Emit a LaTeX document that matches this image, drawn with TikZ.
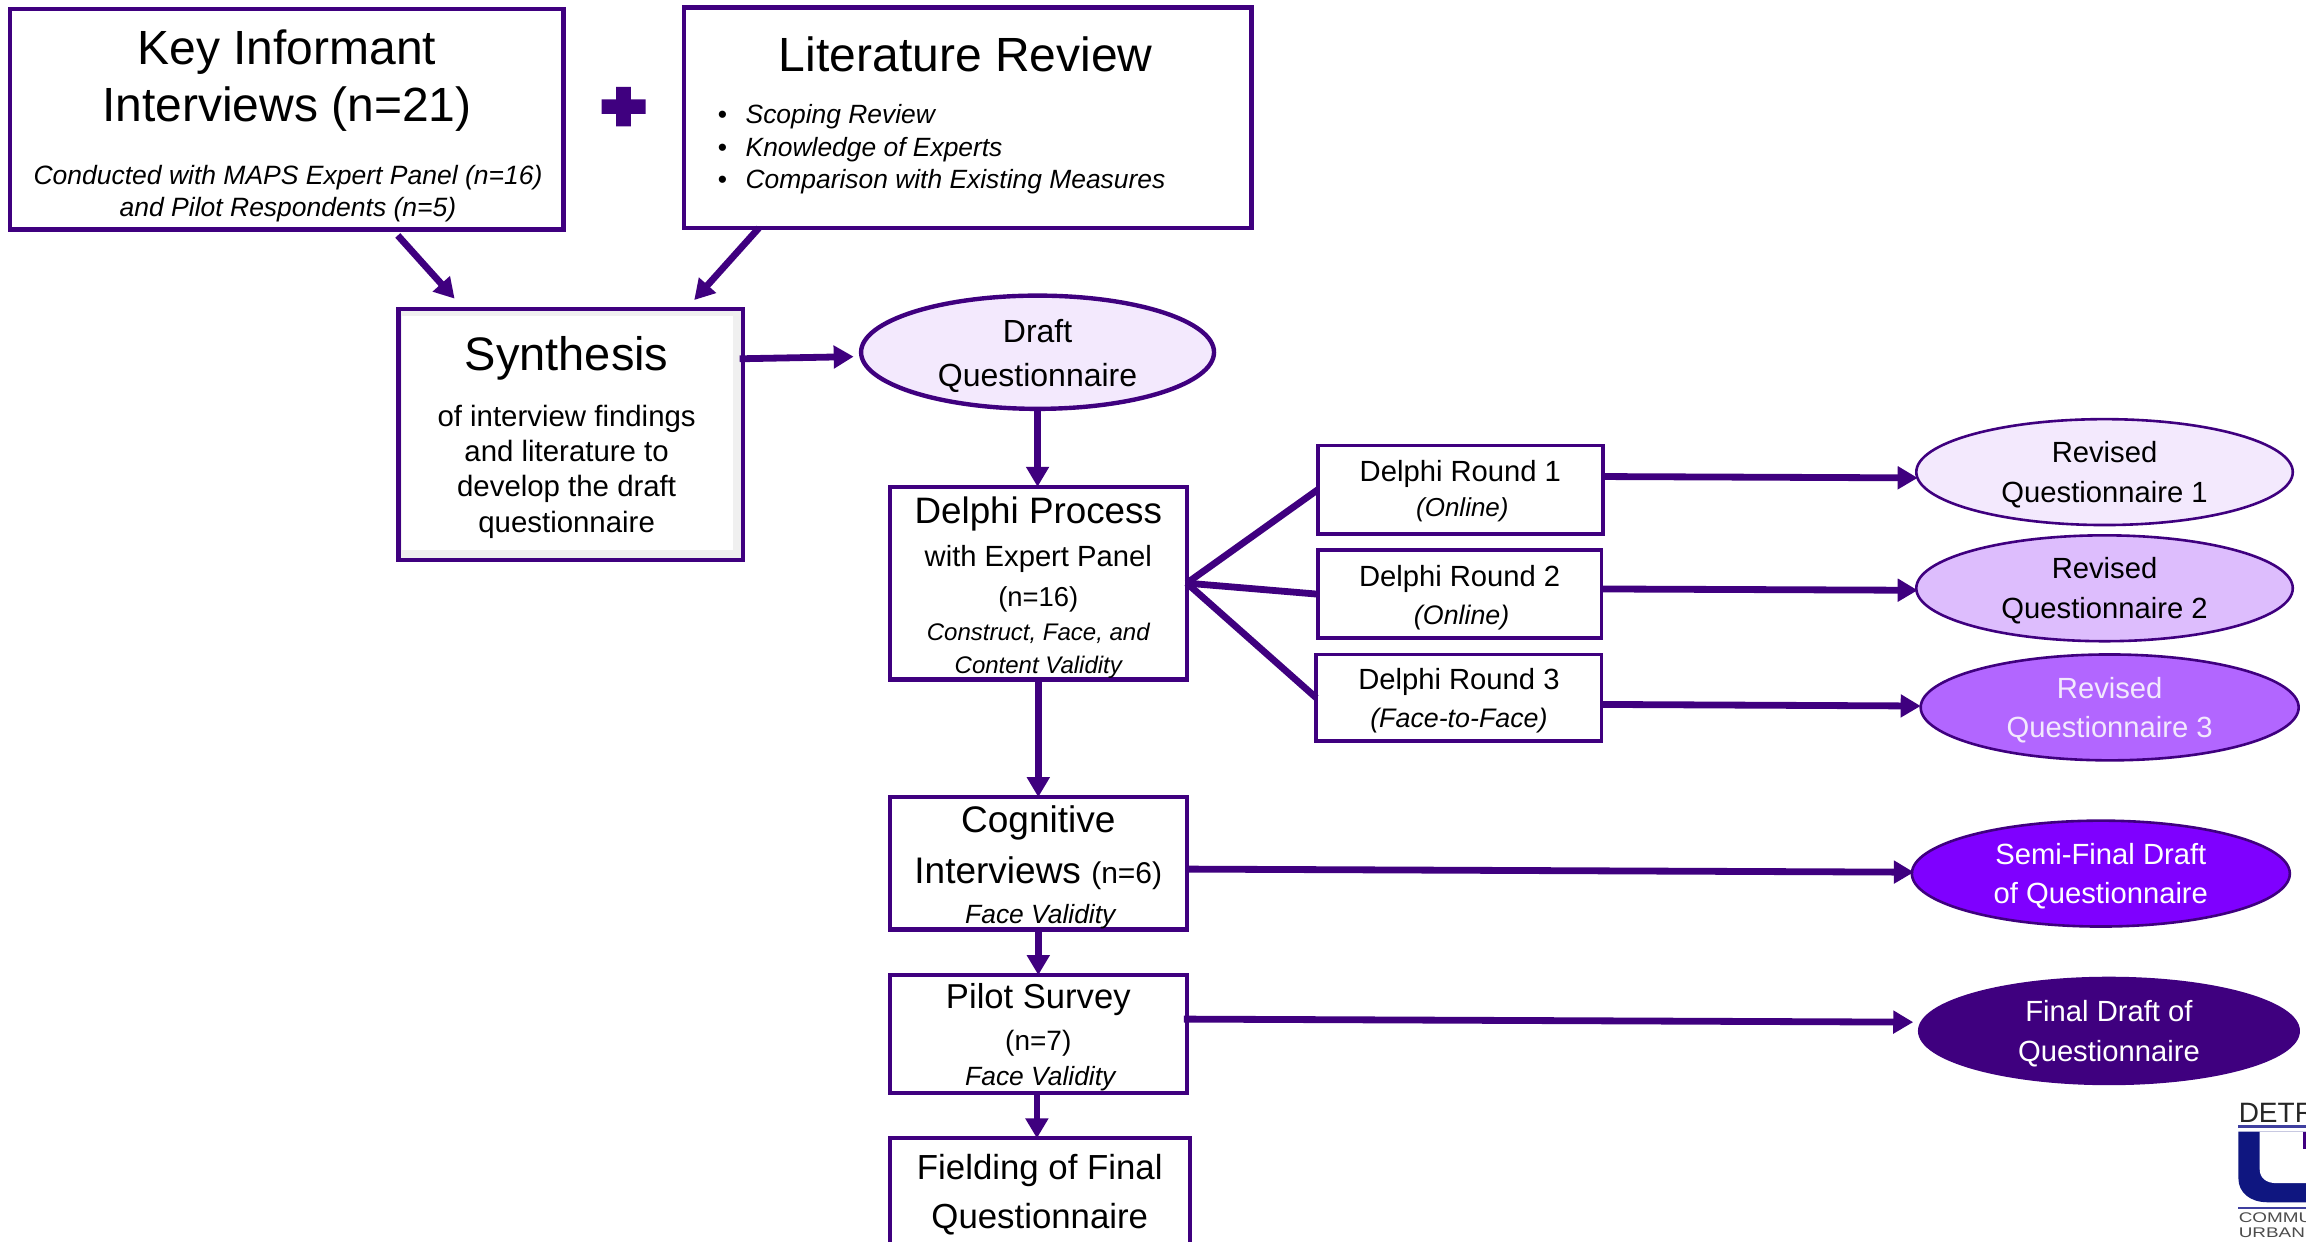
\documentclass[tikz,border=0pt]{standalone}
\usepackage{fontspec}
\setmainfont{Liberation Sans}
\usetikzlibrary{arrows.meta,shapes.geometric}
\definecolor{vio}{HTML}{3F007F}
\definecolor{rev1c}{HTML}{F3E9FD}
\definecolor{rev2c}{HTML}{DDBDFD}
\definecolor{rev3c}{HTML}{B266FF}
\definecolor{semic}{HTML}{7F00FF}
\definecolor{logoblue}{HTML}{0F1680}
\definecolor{logoline}{HTML}{3F3F9F}
\newlength{\uu}\setlength{\uu}{0.7353pt}
% one line of text: size, distance from previous baseline (pt), text, optional x shift
\newcommand\tl[4][0]{\nointerlineskip\vbox to #3pt{\vfil\hbox to\linewidth{\kern#1pt\kern#1pt\hss\smash{\fontsize{#2}{#2}\selectfont #4}\hss}}}
\newcommand\tll[3]{\nointerlineskip\vbox to #1pt{\vfil\hbox to\linewidth{\kern#2pt\smash{\fontsize{13.2}{13.2}\selectfont\makebox[13.9pt][l]{•}\itshape #3}\hss}}}
\newcommand\bx[3]{\parbox[c][#2\uu][t]{#1\uu}{#3}}
% two centred lines of zero extent: baseline raises (pt), texts
\newcommand\ovt[4]{\raisebox{#1pt}[0pt][0pt]{\makebox[0pt]{#3}}\raisebox{#2pt}[0pt][0pt]{\makebox[0pt]{#4}}}
\tikzset{
  flowbox/.style={draw=vio,line width=2.1pt,fill=white,rectangle,inner sep=0pt,outer sep=0pt},
  thinbox/.style={flowbox,line width=1.8pt},
  oval/.style={ellipse,draw=vio,line width=1.3pt,inner sep=0pt,outer sep=0pt,font=\fontsize{14.6}{20}\selectfont},
  arr/.style={draw=vio,line width=3.4pt,-{Triangle[width=11pt,length=10pt]}},
  lnk/.style={draw=vio,line width=3.4pt},
}
\begin{document}
\begin{tikzpicture}[x=0.7353pt,y=-0.7353pt]
\useasboundingbox (0,0) rectangle (1568,844.5);
\clip (0,0) rectangle (1568,844.5);
\fill[white] (0,0) rectangle (1568,844.5);

\node[flowbox,line width=2.3pt] (key) at (195,81) {\bx{376.5}{150}{%
  \tl{24}{27.8}{Key Informant}\tl{24}{28.3}{Interviews (n=21)}%
  \tl[0.6]{13.25}{31.7}{\itshape Conducted with MAPS Expert Panel (n=16)}%
  \tl[0.6]{13.25}{16.2}{\itshape and Pilot Respondents (n=5)}}};
\node[flowbox,line width=2.3pt] (lit) at (658,80) {\bx{386}{150}{%
  \tl[-1]{24}{32}{Literature Review}%
  \tll{26.3}{17}{Scoping Review}\tll{16.2}{17}{Knowledge of Experts}\tll{16.2}{17}{Comparison with Existing Measures}}};
\fill[vio] (419,59) rectangle (429,86) (409,67.5) rectangle (439,77.5);

\node[flowbox,fill=black!6,path picture={\fill[white] ([xshift=1.5pt,yshift=-3.5pt]path picture bounding box.north west) rectangle ([xshift=-5pt,yshift=5pt]path picture bounding box.south east);}] (syn) at (388,295.5) {\bx{234}{171}{%
  \tl[-2]{23.5}{30.9}{Synthesis}\tl[-2]{14.7}{28}{of interview findings}\tl[-2]{14.7}{17.6}{and literature to}%
  \tl[-2]{14.7}{17.4}{develop the draft}\tl[-2]{14.7}{17.8}{questionnaire}}};
\node[oval,fill=rev1c,line width=2.2pt,minimum width=240\uu,minimum height=77\uu,font=\fontsize{16}{22}\selectfont] (draft) at (705.5,239.5) {\ovt{5}{-17.1}{Draft}{Questionnaire}};

\node[flowbox] (del) at (706,396.5) {\bx{202}{131}{%
  \tl{18.4}{18.4}{Delphi Process}\tl{14.6}{21.3}{with Expert Panel}\tl{13.7}{20.2}{(n=16)}%
  \tl{12}{17.1}{\itshape Construct, Face, and}\tl{12}{16.2}{\itshape Content Validity}}};
\node[thinbox] (r1) at (993,333) {\bx{194}{60}{%
  \tl{14.6}{18}{Delphi Round 1}\tl[1]{13}{17.4}{\itshape (Online)}}};
\node[thinbox] (r2) at (992.5,404) {\bx{193}{60}{%
  \tl{14.6}{18}{Delphi Round 2}\tl[1]{13.4}{19}{\itshape (Online)}}};
\node[thinbox] (r3) at (992,474.5) {\bx{194}{59}{%
  \tl{14.6}{17.4}{Delphi Round 3}\tl{13.4}{19}{\itshape (Face-to-Face)}}};

\node[oval,fill=rev1c,minimum width=256\uu,minimum height=72\uu] (q1) at (1431,321) {\ovt{4.7}{-15.1}{Revised}{Questionnaire 1}};
\node[oval,fill=rev2c,minimum width=256\uu,minimum height=72\uu] (q2) at (1431,400) {\ovt{4.7}{-15.1}{Revised}{Questionnaire 2}};
\node[oval,fill=rev3c,text=rev1c,minimum width=257\uu,minimum height=72\uu] (q3) at (1434.5,481) {\ovt{4.7}{-15.1}{Revised}{Questionnaire 3}};
\node[oval,fill=semic,text=white,minimum width=257\uu,minimum height=72\uu] (q4) at (1428.5,594) {\ovt{4.7}{-15.1}{Semi-Final Draft}{of Questionnaire}};
\node[oval,fill=vio,text=white,minimum width=258\uu,minimum height=72\uu] (q5) at (1434,701) {\ovt{4.7}{-15.1}{Final Draft of}{Questionnaire}};

\node[flowbox] (cog) at (706,587) {\bx{202}{90}{%
  \tl{18.5}{17.6}{Cognitive}\tl{18.5}{25.7}{Interviews {\fontsize{15}{15}\selectfont (n=6)}}\tl[1]{13.2}{19.9}{\itshape Face Validity}}};
\node[flowbox] (pil) at (706,703) {\bx{202}{80}{%
  \tl{17.3}{16.9}{Pilot Survey}\tl{14}{20.6}{(n=7)}\tl[1]{13.2}{17.6}{\itshape Face Validity}}};
\node[flowbox] (fie) at (707,824) {\bx{204}{100}{%
  \tl{17.4}{20.6}{Fielding of Final}\tl{17.4}{24.3}{Questionnaire}}};

\draw[arr] ([xshift=55.5pt,yshift=-3pt]key.south) -- ([xshift=-58pt,yshift=5.1pt]syn.north);
\draw[arr] ([xshift=-104.4pt]lit.south) -- ([xshift=61.8pt,yshift=4.4pt]syn.north);
\draw[arr] ([xshift=-1.5pt,yshift=37.9pt]syn.east) -- ([xshift=-3.7pt,yshift=-2.2pt]draft.west);
\draw[arr] (draft.south) -- (draft.south |- del.north);
\draw[lnk] (del.east) -- (r1.west);
\draw[lnk] (del.east) -- (r2.west);
\draw[lnk] (del.east) -- (r3.west);
\draw[arr] ([yshift=6.6pt]r1.east) -- ([xshift=0.7pt,yshift=-2.9pt]q1.west);
\draw[arr] ([yshift=2.6pt]r2.east) -- ([xshift=0.7pt,yshift=-1pt]q2.west);
\draw[arr] ([yshift=-3.3pt]r3.east) -- ([yshift=0.7pt]q3.west);
\draw[arr] ([yshift=-2.9pt]cog.east) -- ([xshift=1pt,yshift=0.7pt]q4.west);
\draw[arr] ([xshift=-1.5pt,yshift=7.4pt]pil.east) -- ([xshift=-3pt,yshift=4.4pt]q5.west);
\draw[arr] (del.south) -- (cog.north);
\draw[arr] (cog.south) -- (pil.north);
\draw[arr] ([xshift=-.7pt]pil.south) -- ([xshift=-.7pt]pil.south |- fie.north);

% partial logo at the lower right edge
\fill[logoblue] (1522,769.5) -- (1568,769.5) -- (1568,817.5) -- (1542,817.5) .. controls (1530,817.5) and (1522,811) .. (1522,801) -- cycle;
\fill[white] (1536.5,769.5) -- (1568,769.5) -- (1568,804.5) -- (1548,804.5) .. controls (1541,804.5) and (1536.5,801) .. (1536.5,795) -- cycle;
\fill[vio] (1566,769.5) rectangle (1568,781);
\fill[logoline] (1522,765) rectangle (1568,767);
\fill[logoline] (1522,820.5) rectangle (1568,822);
\node[anchor=base west,inner sep=0pt,text=black!85] (lg1) at (1522,763) {\fontsize{14}{14}\selectfont DETR};
\node[anchor=base west,inner sep=0pt,text=black!70] (lg2) at (1522,831.5) {\scalebox{1.35}[1]{\fontsize{7}{8}\selectfont COMMU}};
\node[anchor=base west,inner sep=0pt,text=black!70] (lg3) at (1522,841.5) {\scalebox{1.35}[1]{\fontsize{7}{8}\selectfont URBAN}};
\end{tikzpicture}
\end{document}
